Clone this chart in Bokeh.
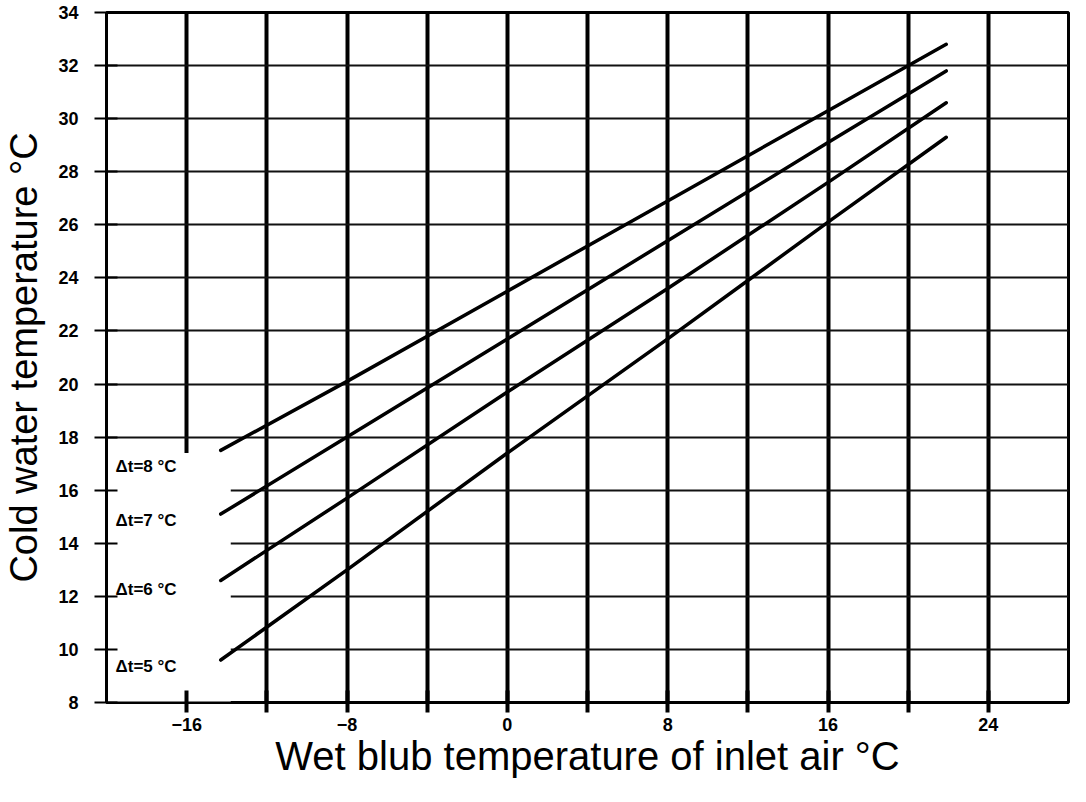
from bokeh.plotting import figure
from bokeh.models import Range1d, FixedTicker
from bokeh.core.properties import value
from bokeh.embed import file_html
from bokeh.resources import INLINE

# ---- data ----
wet_bulb = [-14.3, -8, 0, 8, 16, 21.9]
cold_dt8 = [17.5, 20.1, 23.5, 26.9, 30.3, 32.8]
cold_dt7 = [15.1, 18.0, 21.7, 25.4, 29.1, 31.8]
cold_dt6 = [12.6, 15.7, 19.7, 23.6, 27.6, 30.6]
cold_dt5 = [9.6, 13.0, 17.4, 21.7, 26.1, 29.3]
series_labels = ["Δt=8 °C", "Δt=7 °C", "Δt=6 °C", "Δt=5 °C"]
x_major_ticks = [-16, -8, 0, 8, 16, 24]
x_minor_ticks = [-12, -4, 4, 12, 20]
y_ticks = list(range(8, 35, 2))

X_MIN, X_MAX = -20, 28
Y_MIN, Y_MAX = 8, 34

TICK_FONT = "Liberation Sans"
TITLE_FONT = "Liberation Sans"

p = figure(width=1070, height=786, output_backend="svg", toolbar_location=None,
           x_range=Range1d(X_MIN, X_MAX), y_range=Range1d(Y_MIN, Y_MAX),
           min_border_left=106, min_border_right=2, min_border_top=12, min_border_bottom=84)
p.background_fill_color = "white"
p.border_fill_color = "white"
p.outline_line_color = "black"
p.outline_line_width = 3

# grids
p.xgrid.ticker = FixedTicker(ticks=sorted(x_major_ticks + x_minor_ticks))
p.xgrid.grid_line_color = "black"
p.xgrid.grid_line_width = 4
p.ygrid.ticker = FixedTicker(ticks=y_ticks)
p.ygrid.grid_line_color = "#111111"
p.ygrid.grid_line_width = 2

# x axis
xa = p.xaxis[0]
xa.ticker = FixedTicker(ticks=x_major_ticks, minor_ticks=x_minor_ticks)
xa.axis_line_width = 2
xa.major_tick_in = 12
xa.major_tick_out = 10
xa.minor_tick_in = 12
xa.minor_tick_out = 10
xa.major_tick_line_width = 4
xa.minor_tick_line_width = 4
xa.major_label_text_font = TICK_FONT
xa.major_label_text_font_style = "bold"
xa.major_label_text_font_size = "18px"
xa.major_label_text_color = "black"
xa.major_label_standoff = 5
xa.axis_label = "Wet blub temperature of inlet air °C"
xa.axis_label_text_font = TITLE_FONT
xa.axis_label_text_font_style = "normal"
xa.axis_label_text_font_size = "40px"
xa.axis_label_text_color = "black"
xa.axis_label_standoff = 0

# y axis
ya = p.yaxis[0]
ya.ticker = FixedTicker(ticks=y_ticks)
ya.minor_tick_line_color = None
ya.axis_line_width = 3
ya.major_tick_in = 11
ya.major_tick_out = 12
ya.major_tick_line_width = 2
ya.major_label_text_font = TICK_FONT
ya.major_label_text_font_style = "bold"
ya.major_label_text_font_size = "18px"
ya.major_label_text_color = "black"
ya.major_label_standoff = 16
ya.axis_label = "Cold water temperature °C"
ya.axis_label_text_font = TITLE_FONT
ya.axis_label_text_font_style = "normal"
ya.axis_label_text_font_size = "38px"
ya.axis_label_text_color = "black"
ya.axis_label_standoff = 10

# blank panel behind the Δt labels (grid interrupted there)
p.quad(left=[X_MIN], right=[wet_bulb[0] + 0.5], bottom=[Y_MIN], top=[cold_dt8[0] - 0.1],
       fill_color="white", line_color=None)

# curves
for ys in (cold_dt8, cold_dt7, cold_dt6, cold_dt5):
    p.line(wet_bulb, ys, line_color="black", line_width=3.5, line_cap="round")

# Δt labels
label_y = [16.9, 14.85, 12.25, 9.35]
p.text(x=[X_MIN + 0.45] * 4, y=label_y, text=series_labels,
       text_font=value(TICK_FONT), text_font_style="bold", text_font_size="17px",
       text_color="black", text_baseline="middle", text_align="left")

open("out.html", "w").write(file_html(p, INLINE))
